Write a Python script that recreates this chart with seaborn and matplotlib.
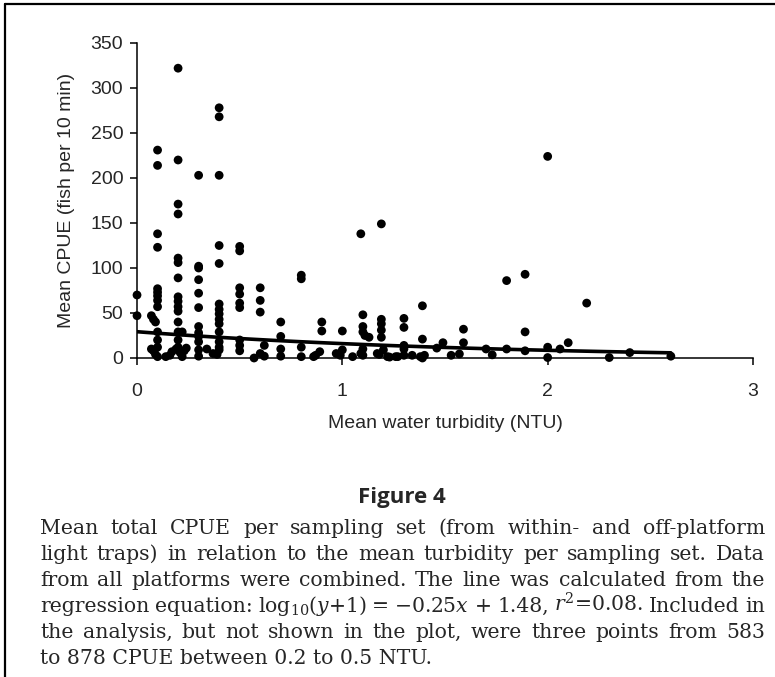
import numpy as np
import pandas as pd
import matplotlib
matplotlib.use("Agg")
import matplotlib.pyplot as plt
import seaborn as sns
from matplotlib.lines import Line2D

# ==========================================
# data (turbidity NTU, CPUE)
# ==========================================
turbidity = [
    0.0, 0.0,
    0.07, 0.08, 0.09, 0.1, 0.1, 0.1, 0.1, 0.1, 0.1, 0.1, 0.1, 0.1, 0.1, 0.1, 0.1, 0.07, 0.08, 0.09, 0.1,
    0.2, 0.2, 0.2, 0.2, 0.2, 0.2, 0.2, 0.2, 0.2, 0.2, 0.2, 0.2, 0.2, 0.22, 0.2, 0.2,
    0.14, 0.16, 0.17, 0.19, 0.21, 0.22, 0.23, 0.24,
    0.3, 0.3, 0.3, 0.3, 0.3, 0.3, 0.3, 0.3, 0.3, 0.3, 0.3, 0.3, 0.34,
    0.4, 0.4, 0.4, 0.4, 0.4, 0.4, 0.4, 0.4, 0.4, 0.4, 0.4, 0.4, 0.4, 0.4, 0.37, 0.39,
    0.5, 0.5, 0.5, 0.5, 0.5, 0.5, 0.5, 0.5, 0.5,
    0.6, 0.6, 0.6, 0.62, 0.6, 0.62, 0.57,
    0.7, 0.7, 0.7, 0.7,
    0.8, 0.8, 0.8, 0.8, 0.86, 0.87, 0.89,
    0.9, 0.9,
    1.0, 1.0, 0.97, 0.99, 1.05,
    1.09, 1.1, 1.1, 1.1, 1.11, 1.13, 1.1, 1.09, 1.1,
    1.19, 1.19, 1.19, 1.19, 1.19, 1.2, 1.17, 1.18, 1.22, 1.26,
    1.3, 1.3, 1.3, 1.3, 1.3, 1.23, 1.27, 1.34, 1.38,
    1.39, 1.39, 1.39, 1.4,
    1.46, 1.49, 1.53, 1.57,
    1.59, 1.59,
    1.7, 1.73,
    1.8, 1.8,
    1.89, 1.89, 1.89,
    2.0, 2.0, 2.0,
    2.06, 2.1, 2.19, 2.3, 2.4, 2.6,
]
cpue = [
    70, 47,
    47, 43, 40, 231, 214, 138, 123, 77, 73, 69, 64, 57, 29, 20, 12, 10, 8, 4, 1.5,
    322, 220, 171, 160, 111, 106, 89, 68, 63, 57, 52, 40, 29, 29, 20, 12,
    1.5, 3, 7, 10, 6, 1.5, 8, 11,
    203, 102, 100, 87, 72, 56, 35, 28, 24, 18, 9, 2, 10,
    278, 268, 203, 125, 105, 60, 54, 49, 43, 38, 29, 18, 12, 9, 5, 4,
    124, 119, 78, 71, 61, 56, 20, 14, 8,
    78, 64, 51, 14, 5, 2, 0,
    40, 24, 10, 2,
    92, 88, 12, 1.5, 1.5, 3, 7,
    40, 30,
    30, 9, 5, 3, 1.5,
    138, 48, 35, 29, 25, 23, 10, 5, 3,
    149, 43, 38, 31, 23, 9, 5, 4, 1.5, 1.5,
    44, 34, 14, 10, 3, 1, 1.5, 3, 1.5,
    58, 21, 0, 3,
    11, 17, 3, 4.5,
    32, 17,
    10, 3.5,
    86, 10,
    93, 29, 8,
    224, 12, 0.5,
    10, 17, 61, 0.5, 6, 2,
]

# regression from the caption: log10(y+1) = -0.25x + 1.48
slope = -0.25
intercept = 1.48
line_x_max = 2.6

x_ticks = [0, 1, 2, 3]
y_ticks = [0, 50, 100, 150, 200, 250, 300, 350]

caption_lines = [
    "Mean total CPUE per sampling set (from within- and off-platform",
    "light traps) in relation to the mean turbidity per sampling set. Data",
    "from all platforms were combined. The line was calculated from the",
    r"regression equation: log$_{10}$($y$+1) = $-$0.25$x$ + 1.48, $r^2$=0.08. Included in",
    "the analysis, but not shown in the plot, were three points from 583",
    "to 878 CPUE between 0.2 to 0.5 NTU.",
]
math_line = 3

df = pd.DataFrame({"turbidity": turbidity, "cpue": cpue})
line_x = np.linspace(0, line_x_max, 60)
line_df = pd.DataFrame({"turbidity": line_x,
                        "cpue": 10 ** (slope * line_x + intercept) - 1})

sns.set_style("ticks")
plt.rcParams["font.family"] = ["Liberation Sans", "DejaVu Sans"]
plt.rcParams["mathtext.fontset"] = "custom"
plt.rcParams["mathtext.rm"] = "DejaVu Serif"
plt.rcParams["mathtext.it"] = "DejaVu Serif:italic"

fig = plt.figure(figsize=(7.75, 6.77), dpi=100)
ax = fig.add_axes([0.1768, 0.4712, 0.7948, 0.4653])

sns.scatterplot(data=df, x="turbidity", y="cpue", ax=ax, color="black",
                s=40, edgecolor="none", clip_on=False, zorder=3)
sns.lineplot(data=line_df, x="turbidity", y="cpue", ax=ax, color="black",
             linewidth=2.6, zorder=4)

ax.set_xlim(0, 3)
ax.set_ylim(0, 350)
ax.set_xticks(x_ticks)
ax.set_yticks(y_ticks)
ax.tick_params(axis="both", labelsize=14, length=5, width=1.1, color="black",
               direction="out")
ax.tick_params(axis="x", pad=13)
ax.tick_params(axis="y", pad=5)
sns.despine(ax=ax)
for sp in ["left", "bottom"]:
    ax.spines[sp].set_linewidth(1.1)
    ax.spines[sp].set_color("black")

ax.set_xlabel("Mean water turbidity (NTU)", fontsize=14)
ax.set_ylabel("Mean CPUE (fish per 10 min)", fontsize=14)
ax.xaxis.set_label_coords(0.5, -0.18)
ax.yaxis.set_label_coords(-0.1, 0.5)

# page frame (top and left edge)
fig.add_artist(Line2D([5 / 775, 1.0], [1 - 4 / 677, 1 - 4 / 677],
                      transform=fig.transFigure, color="black", linewidth=1.6))
fig.add_artist(Line2D([5 / 775, 5 / 775], [0.0, 1 - 4 / 677],
                      transform=fig.transFigure, color="black", linewidth=1.6))

fig.text(402 / 775, 1 - 497 / 677, "Figure 4", ha="center", va="center",
         fontsize=16, fontweight="bold", family=["Open Sans", "Liberation Sans"])

# ==========================================
# justified caption
# ==========================================
renderer = fig.canvas.get_renderer()
W = fig.bbox.width
x_left, x_right = 40 / 775, 765 / 775
box_w = (x_right - x_left) * W
serif = ["DejaVu Serif"]

# size the font on the plain text lines (the math line gets squeezed below)
probe = [fig.text(0, 0, ln, fontsize=10, family=serif)
         for i, ln in enumerate(caption_lines[:-1]) if i != math_line]
widest = max(t.get_window_extent(renderer).width for t in probe)
for t in probe:
    t.remove()
cap_size = 10 * box_w * 0.975 / widest


def place_words(words, y, size):
    texts = [fig.text(0, y, w, ha="left", va="baseline", fontsize=size,
                      family=serif) for w in words]
    widths = [t.get_window_extent(renderer).width for t in texts]
    gap = (box_w - sum(widths)) / (len(words) - 1)
    return texts, widths, gap


first_base, step = 534, 26
for i, line in enumerate(caption_lines):
    y = 1 - (first_base + i * step) / 677
    if i == len(caption_lines) - 1:
        fig.text(x_left, y, line, ha="left", va="baseline", fontsize=cap_size,
                 family=serif)
        continue
    words = line.split(" ")
    size = cap_size
    texts, widths, gap = place_words(words, y, size)
    if gap < 3.5:
        # too long: shrink this line a little so it still fits
        for t in texts:
            t.remove()
        size = cap_size * (box_w - 3.5 * (len(words) - 1)) / sum(widths)
        texts, widths, gap = place_words(words, y, size)
    xpos = x_left * W
    for t, w in zip(texts, widths):
        t.set_x(xpos / W)
        xpos += w + gap

fig.savefig("out.png", dpi=100)
